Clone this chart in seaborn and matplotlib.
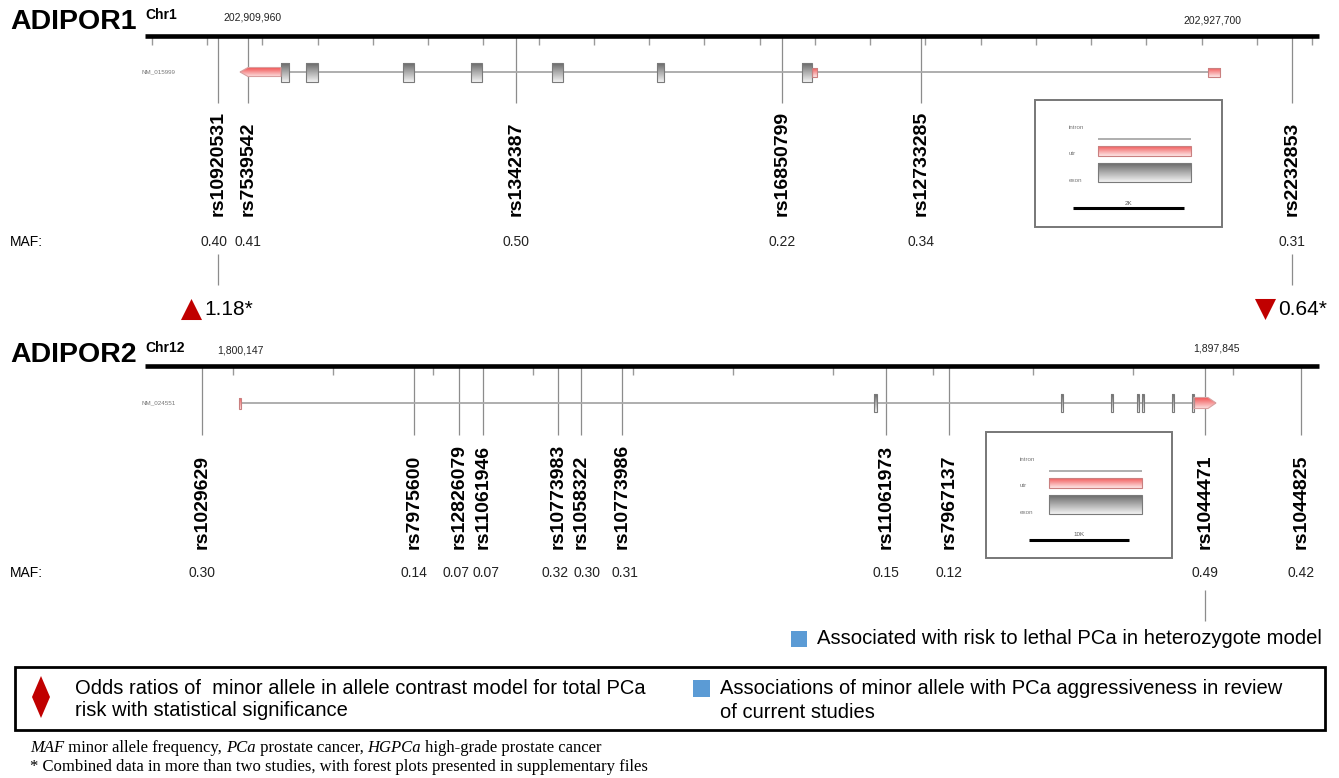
import numpy as np
import matplotlib
matplotlib.use("Agg")
import matplotlib.pyplot as plt
import matplotlib.transforms as mtransforms
from matplotlib.patches import Rectangle, Polygon
from matplotlib.colors import LinearSegmentedColormap
import seaborn as sns

W, H = 1339, 778

# ---- ADIPOR1 (Chr1, NM_015999, minus strand) ----
adipor1_start, adipor1_end = 202909960, 202927700
adipor1_snps = ["rs10920531", "rs7539542", "rs1342387", "rs16850799", "rs12733285", "rs2232853"]
adipor1_snp_pos = [202909562, 202910105, 202914956, 202919770, 202922286, 202929001]
adipor1_maf = [0.40, 0.41, 0.50, 0.22, 0.34, 0.31]
adipor1_or_snps = ["rs10920531", "rs2232853"]
adipor1_or = [1.18, 0.64]
# exon / utr blocks as offsets (bp) from gene start
adipor1_exons = [(742, 887), (1195, 1412), (2950, 3149), (4181, 4380), (5647, 5846), (7548, 7674), (10172, 10353)]
adipor1_utr = [(0, 742), (10353, 10444), (17521, 17740)]

# ---- ADIPOR2 (Chr12, NM_024551, plus strand) ----
adipor2_start, adipor2_end = 1800147, 1897845
adipor2_snps = ["rs1029629", "rs7975600", "rs12826079", "rs11061946", "rs10773983", "rs1058322",
                "rs10773986", "rs11061973", "rs7967137", "rs1044471", "rs1044825"]
adipor2_snp_pos = [1796447, 1817647, 1822147, 1824547, 1832047, 1834347, 1838447, 1864847, 1871147, 1896747, 1906347]
adipor2_maf = [0.30, 0.14, 0.07, 0.07, 0.32, 0.30, 0.31, 0.15, 0.12, 0.49, 0.42]
adipor2_exons = [(63500, 63800), (82200, 82400), (87200, 87400), (89800, 90000), (90300, 90500), (93300, 93500), (95300, 95500)]
adipor2_utr = [(0, 200), (95500, 97698)]
adipor2_lethal_snps = ["rs1044471"]

RED = "#c00000"
BLUE = "#5b9bd5"

# small pixel nudges for MAF labels that would collide
maf_nudge = {"rs10920531": -4, "rs12826079": -3, "rs11061946": 3, "rs10773983": -3, "rs1058322": 6, "rs10773986": 3}

sns.set_theme(style="white")
plt.rcParams["font.family"] = ["Liberation Sans", "DejaVu Sans"]
plt.rcParams["text.color"] = "black"

fig = plt.figure(figsize=(W / 100, H / 100), dpi=100)
base = fig.add_axes([0, 0, 1, 1])
base.set_xlim(0, W)
base.set_ylim(H, 0)
base.axis("off")

grad = np.linspace(0, 1, 64).reshape(-1, 1)
exon_cmap = LinearSegmentedColormap.from_list("exon", ["#6a6a6a", "#f2f2f2"])
utr_cmap = LinearSegmentedColormap.from_list("utr", ["#f25c5c", "#fde6e6"])


def grad_box(ax, x0, x1, ytop, ybot, cmap, edge, poly=None, lw=0.8):
    im = ax.imshow(grad, extent=[x0, x1, ybot, ytop], cmap=cmap, aspect="auto",
                   origin="upper", interpolation="bilinear", zorder=3)
    if poly is None:
        patch = Rectangle((x0, ytop), x1 - x0, ybot - ytop, fill=False, edgecolor=edge, lw=lw, zorder=4)
    else:
        patch = Polygon(poly, closed=True, fill=False, edgecolor=edge, lw=lw, zorder=4)
    ax.add_patch(patch)
    im.set_clip_path(patch)


def draw_gene(lay, start, end, snps, pos, maf, exons, utr, strand):
    bpp, px0 = lay["bpp"], lay["px0"]
    ax = fig.add_axes([0, 0, 1, 1])
    xlim = (start - px0 * bpp, start + (W - px0) * bpp)
    ax.axis("off")
    ytr = ax.get_yaxis_transform()

    # ruler
    r = lay["ruler"]
    ax.plot([145 / W, 1319 / W], [r, r], color="black", lw=3.3, transform=ytr, solid_capstyle="butt", zorder=5)
    ticks = np.arange(start + lay["tick0"], start + (1319 - px0) * bpp, lay["tick_step"])
    ax.vlines(ticks, r + 1, r + 9, color="#9a9a9a", lw=1)

    # snp stems
    ax.vlines(pos, r + 1, lay["stem_end"], color="#8c8c8c", lw=0.9, zorder=2)

    # transcript
    t = lay["track"]
    ax.hlines(t, start, end, color="#a8a8a8", lw=1.3, zorder=2)
    eh, uh = lay["exon_h"], lay["utr_h"]
    for a, b in exons:
        grad_box(ax, start + a, start + b, t - eh, t + eh, exon_cmap, "#7a7a7a")
    tip = 8 * bpp
    for a, b in utr:
        x0, x1 = start + a, start + b
        if strand < 0 and a == 0:
            poly = [(x0, t), (x0 + tip, t - uh), (x1, t - uh), (x1, t + uh), (x0 + tip, t + uh)]
            grad_box(ax, x0, x1, t - uh, t + uh, utr_cmap, "#d9a0a0", poly=poly)
        elif strand > 0 and b == end - start:
            poly = [(x0, t - uh), (x1 - tip, t - uh), (x1, t), (x1 - tip, t + uh), (x0, t + uh)]
            grad_box(ax, x0, x1, t - uh, t + uh, utr_cmap, "#d9a0a0", poly=poly)
        else:
            grad_box(ax, x0, x1, t - uh, t + uh, utr_cmap, "#c98080")

    # snp labels and MAF
    for name, p, m in zip(snps, pos, maf):
        ax.text(p, lay["label"], name, rotation=90, ha="center", va="bottom",
                fontsize=14, fontweight="bold")
        ntr = mtransforms.offset_copy(ax.transData, fig=fig, x=maf_nudge.get(name, 0), y=0, units="dots")
        ax.text(p, lay["maf"], f"{m:.2f}", ha="center", va="center", fontsize=10, color="#222222",
                transform=ntr)

    ax.set_xlim(*xlim)
    ax.set_ylim(H, 0)
    return ax


lay1 = dict(bpp=18.1, px0=240, ruler=36, tick0=-1593, tick_step=1000, stem_end=103, track=72,
            exon_h=9.5, utr_h=4.5, label=216, maf=242)
lay2 = dict(bpp=100.0, px0=239, ruler=366, tick0=-600, tick_step=10000, stem_end=435, track=403,
            exon_h=9, utr_h=5.5, label=549, maf=573)

ax1 = draw_gene(lay1, adipor1_start, adipor1_end, adipor1_snps, adipor1_snp_pos, adipor1_maf,
                adipor1_exons, adipor1_utr, -1)
ax2 = draw_gene(lay2, adipor2_start, adipor2_end, adipor2_snps, adipor2_snp_pos, adipor2_maf,
                adipor2_exons, adipor2_utr, 1)

# odds ratio markers (ADIPOR1)
for name, val in zip(adipor1_or_snps, adipor1_or):
    p = adipor1_snp_pos[adipor1_snps.index(name)]
    ax1.vlines(p, 254, 285, color="#8c8c8c", lw=0.9)
    mtrans = mtransforms.offset_copy(ax1.transData, fig=fig, x=-27, y=0, units="dots")
    sns.scatterplot(x=[p], y=[309], marker="^" if val > 1 else "v", s=230, color=RED,
                    linewidth=0, transform=mtrans, ax=ax1, legend=False, zorder=6)
    ttrans = mtransforms.offset_copy(ax1.transData, fig=fig, x=-14, y=0, units="dots")
    ax1.text(p, 309, f"{val:.2f}*", transform=ttrans, ha="left", va="center", fontsize=15)
ax1.set_xlim(adipor1_start - 240 * 18.1, adipor1_start + (W - 240) * 18.1)
ax1.set_ylim(H, 0)
ax1.axis("off")

# lethal PCa association (ADIPOR2)
for name in adipor2_lethal_snps:
    p = adipor2_snp_pos[adipor2_snps.index(name)]
    ax2.vlines(p, 590, 621, color="#8c8c8c", lw=0.9)
base.add_patch(Rectangle((791, 631), 16, 16, color=BLUE, lw=0))
base.text(817, 639, "Associated with risk to lethal PCa in heterozygote model", ha="left", va="center", fontsize=14.6)

# headers
for y, gene, chrom, s_lab, s_x, e_lab, e_x, chr_y, e_y in [
        (22, "ADIPOR1", "Chr1", adipor1_start, 252, adipor1_end, 1212, 15, 20),
        (355, "ADIPOR2", "Chr12", adipor2_start, 240, adipor2_end, 1216, 348, 348)]:
    base.text(10, y, gene, fontsize=20.5, fontweight="bold", ha="left", va="center")
    base.text(145, chr_y, chrom, fontsize=10, fontweight="bold", ha="left", va="center")
    base.text(s_x, chr_y + 2, f"{s_lab:,}", fontsize=7.5, ha="center", va="center", color="#222222")
    base.text(e_x, e_y, f"{e_lab:,}", fontsize=7.5, ha="center", va="center", color="#222222")
base.text(142, 72, "NM_015999", fontsize=4.5, color="#777777", va="center")
base.text(142, 403, "NM_024551", fontsize=4.5, color="#777777", va="center")
base.text(10, 242, "MAF:", fontsize=10, va="center")
base.text(10, 573, "MAF:", fontsize=10, va="center")

# structure legends (insets)
for (bx, by, bw, bh, scale_lab, sx0, sx1) in [(1035, 100, 187, 127, "2K", 1073, 1184),
                                               (986, 432, 186, 126, "10K", 1029, 1129)]:
    base.add_patch(Rectangle((bx, by), bw, bh, fill=False, edgecolor="#777777", lw=1.4))
    lx0, lx1 = bx + 63, bx + 156
    base.text(bx + 34, by + 27, "intron", fontsize=4.5, color="#777777", va="center")
    base.hlines(by + 39, lx0, lx1, color="#a8a8a8", lw=1.3)
    base.text(bx + 34, by + 53, "utr", fontsize=4.5, color="#777777", va="center")
    grad_box(base, lx0, lx1, by + 46, by + 56, utr_cmap, "#c98080")
    base.text(bx + 34, by + 80, "exon", fontsize=4.5, color="#777777", va="center")
    grad_box(base, lx0, lx1, by + 63, by + 82, exon_cmap, "#7a7a7a")
    base.hlines(by + 108, sx0, sx1, color="black", lw=2.2)
    base.text((sx0 + sx1) / 2, by + 103, scale_lab, fontsize=4.5, color="#555555", ha="center", va="center")

# bottom legend
base.add_patch(Rectangle((15, 667), 1310, 63, fill=False, edgecolor="black", lw=2))
base.add_patch(Polygon([(41, 676), (50, 697), (41, 718), (32, 697)], closed=True, color=RED, lw=0))
base.text(75, 689, "Odds ratios of  minor allele in allele contrast model for total PCa", fontsize=14.5, va="center")
base.text(75, 711, "risk with statistical significance", fontsize=14.5, va="center")
base.add_patch(Rectangle((693, 680), 17, 17, color=BLUE, lw=0))
base.text(720, 689, "Associations of minor allele with PCa aggressiveness in review", fontsize=14.5, va="center")
base.text(720, 712, "of current studies", fontsize=14.5, va="center")

# footnotes with italic words
renderer = fig.canvas.get_renderer()


def rich_text(x, y, parts):
    for s, style in parts:
        t = base.text(x, y, s, fontstyle=style, fontsize=12, va="center",
                      family=["Liberation Serif", "DejaVu Serif"])
        x += t.get_window_extent(renderer).width


rich_text(30, 748, [("MAF", "italic"), (" minor allele frequency, ", "normal"), ("PCa", "italic"),
                    (" prostate cancer, ", "normal"), ("HGPCa", "italic"), (" high-grade prostate cancer", "normal")])
rich_text(30, 767, [("* Combined data in more than two studies, with forest plots presented in supplementary files",
                     "normal")])

fig.savefig("out.png", dpi=100)
